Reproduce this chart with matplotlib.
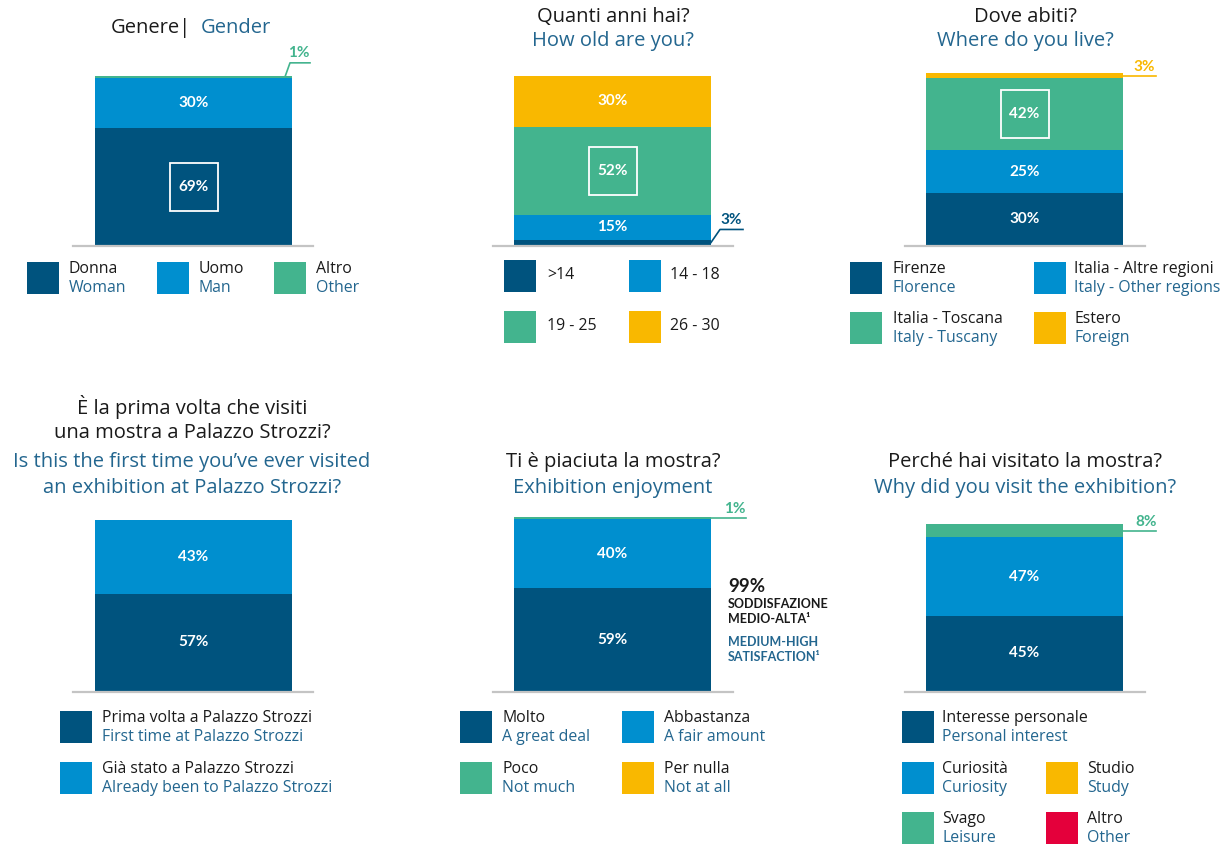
import matplotlib
matplotlib.use('Agg')
import matplotlib.pyplot as plt
from matplotlib.patches import Rectangle

W, H = 1223, 846

DARK = '#00537e'
BLUE = '#008fcf'
GREEN = '#43b48e'
YELLOW = '#f9b800'
RED = '#e4003b'
EN_C = '#23668f'
IT_C = '#1a1a1a'
BASE_C = '#c4c4c4'

# --- data ---
gender_it = ['Donna', 'Uomo', 'Altro']
gender_en = ['Woman', 'Man', 'Other']
gender_pct = [69, 30, 1]

age_labels = ['>14', '14 - 18', '19 - 25', '26 - 30']
age_pct = [3, 15, 52, 30]

home_it = ['Firenze', 'Italia - Altre regioni', 'Italia - Toscana', 'Estero']
home_en = ['Florence', 'Italy - Other regions', 'Italy - Tuscany', 'Foreign']
home_pct = [30, 25, 42, 3]

first_it = ['Prima volta a Palazzo Strozzi', 'Già stato a Palazzo Strozzi']
first_en = ['First time at Palazzo Strozzi', 'Already been to Palazzo Strozzi']
first_pct = [57, 43]

enjoy_it = ['Molto', 'Abbastanza', 'Poco', 'Per nulla']
enjoy_en = ['A great deal', 'A fair amount', 'Not much', 'Not at all']
enjoy_pct = [59, 40, 1, 0]

why_it = ['Interesse personale', 'Curiosità', 'Svago', 'Studio', 'Altro']
why_en = ['Personal interest', 'Curiosity', 'Leisure', 'Study', 'Other']
why_pct = [45, 47, 8, 0, 0]

TITLE_FONT = 'Open Sans'
NUM_FONT = 'Lato'
PCT_SIZE = 11
LEG_SIZE = 11.4

fig = plt.figure(figsize=(W / 100, H / 100), dpi=100)


def fx(x):
    return x / W


def fy(y):
    return 1 - y / H


def bar_panel(x0, x1, top, bottom, ll, lr, values, colors,
              boxed=None, outside=None):
    # one axes per stacked bar, y in percent
    ax = fig.add_axes([fx(ll), fy(bottom), (lr - ll) / W, (bottom - top) / H])
    bw = x1 - x0
    ax.set_xlim(-(x0 - ll) / bw, 1 + (lr - x1) / bw)
    ax.set_ylim(0, 100)
    ax.axis('off')
    sx = 1 / bw
    sy = 100 / (bottom - top)
    outside = outside or {}
    cum = 0
    for i, (v, c) in enumerate(zip(values, colors)):
        if v > 0:
            ax.bar(0.5, v, bottom=cum, width=1, color=c, linewidth=0)
        mid = cum + v / 2
        if i in outside:
            pts, (tdx, tdy) = outside[i]
            xs = [1 + dx * sx for dx, dy in pts]
            ys = [mid + dy * sy for dx, dy in pts]
            ax.plot(xs, ys, color=c, lw=1.2, clip_on=False)
            ax.text(1 + tdx * sx, mid + tdy * sy, f'{v}%', color=c,
                    ha='center', va='center', fontsize=PCT_SIZE,
                    fontweight='bold', family=NUM_FONT)
        elif v > 0:
            ax.text(0.5, mid, f'{v}%', color='white', ha='center',
                    va='center', fontsize=PCT_SIZE, fontweight='bold',
                    family=NUM_FONT)
            if boxed == i:
                ax.add_patch(Rectangle((0.5 - 24 * sx, mid - 24 * sy),
                                       48 * sx, 48 * sy, fill=False,
                                       edgecolor='white', lw=1.3))
        cum += v
    xl = ax.get_xlim()
    ax.plot(xl, [-1.2 * sy] * 2, color=BASE_C, lw=1.6, clip_on=False)
    return ax


def title(cx, y, text, color=IT_C, size=14.5, ha='center'):
    fig.text(fx(cx), fy(y), text, ha=ha, va='center', fontsize=size,
             color=color, family=TITLE_FONT)


def legend_item(x, y, color, it, en=None, tx=None):
    fig.add_artist(Rectangle((fx(x), fy(y + 32)), 32 / W, 32 / H,
                             transform=fig.transFigure, color=color,
                             linewidth=0))
    tx = tx if tx is not None else x + 42
    if en is None:
        fig.text(fx(tx), fy(y + 15), it, ha='left', va='center',
                 fontsize=LEG_SIZE, color=IT_C, family=TITLE_FONT)
    else:
        fig.text(fx(tx), fy(y + 7), it, ha='left', va='center',
                 fontsize=LEG_SIZE, color=IT_C, family=TITLE_FONT)
        fig.text(fx(tx), fy(y + 26), en, ha='left', va='center',
                 fontsize=LEG_SIZE, color=EN_C, family=TITLE_FONT)


# --- Gender ---
title(191, 28, 'Genere|', ha='right')
title(201, 28, 'Gender', color=EN_C, ha='left')
bar_panel(95, 292, 76, 245, 73, 313, gender_pct, [DARK, BLUE, GREEN],
          boxed=0,
          outside={2: ([(-7, 0), (-2, 14), (18, 14)], (7, 24))})
for x, c, it, en in zip([27, 157, 274], [DARK, BLUE, GREEN], gender_it, gender_en):
    legend_item(x, 262, c, it, en)

# --- Age ---
title(613, 17, 'Quanti anni hai?')
title(613, 41, 'How old are you?', color=EN_C)
bar_panel(514, 711, 76, 245, 493, 733, age_pct, [DARK, BLUE, GREEN, YELLOW],
          boxed=2,
          outside={0: ([(0, 0), (9, 13), (32, 13)], (20, 22))})
age_pos = [(504, 260, 547), (629, 260, 670), (504, 311, 547), (629, 311, 670)]
for (x, y, tx), c, lab in zip(age_pos, [DARK, BLUE, GREEN, YELLOW], age_labels):
    legend_item(x, y, c, lab, tx=tx)

# --- Home ---
title(1025, 17, 'Dove abiti?')
title(1025, 41, 'Where do you live?', color=EN_C)
bar_panel(926, 1123, 73, 245, 905, 1145, home_pct, [DARK, BLUE, GREEN, YELLOW],
          boxed=2,
          outside={3: ([(0, 0), (33, 0)], (21, 9))})
home_pos = [(850, 262, 893), (1034, 262, 1074), (850, 312, 893), (1034, 312, 1074)]
for (x, y, tx), c, it, en in zip(home_pos, [DARK, BLUE, GREEN, YELLOW], home_it, home_en):
    legend_item(x, y, c, it, en, tx=tx)

# --- First time ---
title(192, 407, 'È la prima volta che visiti')
title(192, 433, 'una mostra a Palazzo Strozzi?')
title(192, 462, 'Is this the first time you\u2019ve ever visited', color=EN_C)
title(192, 488, 'an exhibition at Palazzo Strozzi?', color=EN_C)
bar_panel(95, 292, 520, 691, 73, 313, first_pct, [DARK, BLUE])
for y, c, it, en in zip([711, 762], [DARK, BLUE], first_it, first_en):
    legend_item(60, y, c, it, en, tx=102)

# --- Enjoyment ---
title(613, 462, 'Ti è piaciuta la mostra?')
title(613, 488, 'Exhibition enjoyment', color=EN_C)
bar_panel(514, 711, 517, 691, 493, 733, enjoy_pct, [DARK, BLUE, GREEN, YELLOW],
          outside={2: ([(0, 0), (35, 0)], (24, 9))})
fig.text(fx(728), fy(587), '99%', fontsize=13.5, fontweight='bold',
         color=IT_C, family=NUM_FONT, va='center')
for y, txt, c in [(604, 'SODDISFAZIONE', IT_C), (619, 'MEDIO-ALTA\u00b9', IT_C),
                  (642, 'MEDIUM-HIGH', EN_C), (657, 'SATISFACTION\u00b9', EN_C)]:
    fig.text(fx(728), fy(y), txt, fontsize=9, fontweight='bold',
             color=c, family=NUM_FONT, va='center')
enjoy_pos = [(460, 711, 502), (622, 711, 664), (460, 762, 502), (622, 762, 664)]
for (x, y, tx), c, it, en in zip(enjoy_pos, [DARK, BLUE, GREEN, YELLOW], enjoy_it, enjoy_en):
    legend_item(x, y, c, it, en, tx=tx)

# --- Why ---
title(1025, 462, 'Perché hai visitato la mostra?')
title(1025, 488, 'Why did you visit the exhibition?', color=EN_C)
bar_panel(926, 1123, 524, 691, 905, 1145, why_pct, [DARK, BLUE, GREEN, YELLOW, RED],
          outside={2: ([(0, 0), (33, 0)], (23, 9))})
why_pos = [(902, 711, 942), (902, 762, 942), (902, 812, 942), (1046, 762, 1087), (1046, 812, 1087)]
for (x, y, tx), c, it, en in zip(why_pos, [DARK, BLUE, GREEN, YELLOW, RED], why_it, why_en):
    legend_item(x, y, c, it, en, tx=tx)

fig.savefig('out.png', dpi=100, facecolor='white')
